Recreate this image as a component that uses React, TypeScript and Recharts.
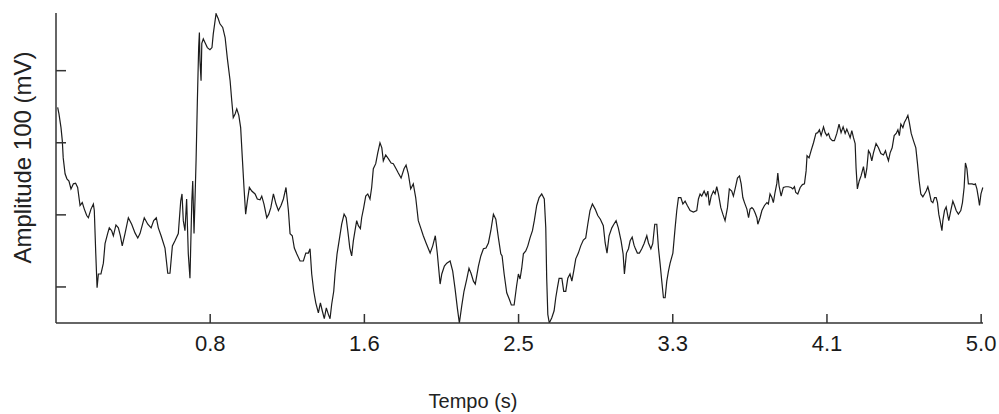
import { LineChart, Line, XAxis, YAxis } from "recharts";

// signal: time (s) and amplitude (tick units)
const time = [
  0.009, 0.016, 0.027, 0.034, 0.039, 0.049, 0.059, 0.070, 0.081, 0.094,
  0.106, 0.117, 0.130, 0.142, 0.153, 0.166, 0.175, 0.189, 0.202, 0.207,
  0.215, 0.222, 0.229, 0.243, 0.256, 0.265, 0.279, 0.288, 0.301, 0.310,
  0.324, 0.337, 0.348, 0.358, 0.373, 0.391, 0.409, 0.427, 0.442, 0.454,
  0.477, 0.496, 0.514, 0.528, 0.542, 0.553, 0.568, 0.589, 0.604, 0.616,
  0.629, 0.643, 0.661, 0.674, 0.681, 0.688, 0.697, 0.706, 0.715, 0.724,
  0.734, 0.739, 0.746, 0.751, 0.757, 0.764, 0.771, 0.775, 0.778, 0.784,
  0.788, 0.796, 0.807, 0.818, 0.832, 0.843, 0.850, 0.865, 0.877, 0.886,
  0.901, 0.914, 0.926, 0.941, 0.950, 0.958, 0.968, 0.977, 0.988, 0.998,
  1.007, 1.016, 1.025, 1.034, 1.045, 1.058, 1.076, 1.088, 1.103, 1.112,
  1.124, 1.139, 1.150, 1.161, 1.175, 1.189, 1.202, 1.216, 1.229, 1.243,
  1.256, 1.265, 1.277, 1.288, 1.301, 1.319, 1.337, 1.350, 1.364, 1.373,
  1.382, 1.393, 1.404, 1.418, 1.429, 1.439, 1.450, 1.461, 1.472, 1.481,
  1.490, 1.501, 1.508, 1.519, 1.530, 1.544, 1.557, 1.568, 1.577, 1.588,
  1.598, 1.607, 1.616, 1.625, 1.634, 1.645, 1.652, 1.663, 1.674, 1.685,
  1.697, 1.706, 1.715, 1.728, 1.739, 1.751, 1.761, 1.769, 1.782, 1.796,
  1.811, 1.823, 1.838, 1.850, 1.865, 1.881, 1.892, 1.904, 1.917, 1.931,
  1.944, 1.958, 1.971, 1.985, 2.000, 2.022, 2.036, 2.050, 2.061, 2.076,
  2.085, 2.099, 2.112, 2.130, 2.144, 2.157, 2.169, 2.180, 2.193, 2.205,
  2.220, 2.232, 2.243, 2.256, 2.266, 2.283, 2.296, 2.310, 2.324, 2.337,
  2.350, 2.364, 2.377, 2.391, 2.404, 2.411, 2.422, 2.436, 2.450, 2.461,
  2.476, 2.489, 2.499, 2.508, 2.517, 2.526, 2.539, 2.550, 2.562, 2.575,
  2.585, 2.598, 2.611, 2.625, 2.639, 2.647, 2.652, 2.658, 2.666, 2.679,
  2.692, 2.701, 2.710, 2.719, 2.734, 2.744, 2.755, 2.766, 2.778, 2.788,
  2.798, 2.809, 2.823, 2.836, 2.850, 2.863, 2.874, 2.886, 2.899, 2.914,
  2.928, 2.942, 2.958, 2.968, 2.978, 2.989, 3.004, 3.015, 3.027, 3.039,
  3.054, 3.065, 3.072, 3.083, 3.094, 3.103, 3.114, 3.124, 3.130, 3.142,
  3.153, 3.166, 3.178, 3.193, 3.202, 3.215, 3.225, 3.236, 3.247, 3.256,
  3.265, 3.274, 3.283, 3.292, 3.301, 3.310, 3.319, 3.334, 3.346, 3.355,
  3.364, 3.377, 3.388, 3.400, 3.412, 3.427, 3.445, 3.463, 3.472, 3.481,
  3.490, 3.503, 3.514, 3.523, 3.531, 3.541, 3.553, 3.562, 3.571, 3.580,
  3.593, 3.604, 3.616, 3.629, 3.639, 3.652, 3.661, 3.672, 3.683, 3.694,
  3.703, 3.712, 3.721, 3.734, 3.743, 3.751, 3.761, 3.769, 3.778, 3.788,
  3.793, 3.805, 3.815, 3.829, 3.842, 3.850, 3.859, 3.869, 3.877, 3.886,
  3.896, 3.901, 3.908, 3.919, 3.931, 3.944, 3.958, 3.973, 3.982, 3.991,
  3.998, 4.009, 4.022, 4.034, 4.045, 4.054, 4.059, 4.070, 4.081, 4.094,
  4.107, 4.117, 4.126, 4.135, 4.148, 4.157, 4.166, 4.175, 4.184, 4.196,
  4.207, 4.220, 4.232, 4.243, 4.254, 4.265, 4.274, 4.283, 4.292, 4.301,
  4.310, 4.319, 4.324, 4.331, 4.341, 4.351, 4.364, 4.373, 4.382, 4.391,
  4.400, 4.409, 4.418, 4.432, 4.445, 4.458, 4.472, 4.483, 4.490, 4.499,
  4.508, 4.519, 4.530, 4.541, 4.550, 4.558, 4.566, 4.577, 4.585, 4.595,
  4.604, 4.612, 4.622, 4.634, 4.647, 4.656, 4.665, 4.674, 4.685, 4.694,
  4.703, 4.712, 4.720, 4.730, 4.739, 4.748, 4.757, 4.764, 4.771, 4.778,
  4.788, 4.793, 4.802, 4.811, 4.818, 4.825, 4.836, 4.847, 4.856, 4.865,
  4.877, 4.890, 4.899, 4.908, 4.915, 4.923, 4.931, 4.941, 4.951, 4.962,
  4.969, 4.977, 4.985, 4.991, 4.999, 5.009,
];

const amplitude = [
  1.49, 1.40, 1.21, 1.03, 0.79, 0.57, 0.50, 0.47, 0.36, 0.43,
  0.44, 0.38, 0.13, 0.17, 0.08, -0.01, -0.04, 0.08, 0.15, 0.06,
  -0.54, -1.01, -0.82, -0.82, -0.67, -0.40, -0.26, -0.18, -0.22, -0.29,
  -0.14, -0.18, -0.29, -0.43, -0.26, -0.04, -0.13, -0.25, -0.32, -0.26,
  -0.04, -0.13, -0.18, -0.08, -0.04, -0.18, -0.29, -0.46, -0.81, -0.81,
  -0.43, -0.36, -0.26, 0.19, 0.29, -0.08, -0.22, 0.22, -0.54, -0.88,
  0.19, 0.47, -0.26, 0.19, 0.75, 1.58, 2.32, 2.53, 2.14, 1.86,
  2.38, 2.44, 2.38, 2.32, 2.29, 2.32, 2.51, 2.79, 2.72, 2.65,
  2.60, 2.46, 2.17, 1.86, 1.58, 1.35, 1.40, 1.47, 1.38, 1.21,
  0.79, 0.38, 0.01, 0.19, 0.38, 0.33, 0.29, 0.22, 0.21, 0.26,
  0.15, -0.04, 0.01, 0.10, 0.29, 0.15, 0.06, 0.13, 0.22, 0.38,
  0.06, -0.26, -0.29, -0.46, -0.54, -0.64, -0.64, -0.53, -0.53, -0.47,
  -0.82, -1.06, -1.22, -1.36, -1.22, -1.33, -1.44, -1.29, -1.38, -1.44,
  -1.24, -1.06, -0.82, -0.54, -0.36, -0.13, 0.01, -0.04, -0.22, -0.46,
  -0.57, -0.36, -0.22, -0.08, -0.15, -0.19, -0.04, 0.10, 0.26, 0.29,
  0.22, 0.38, 0.64, 0.71, 0.86, 1.00, 0.93, 0.75, 0.83, 0.78,
  0.72, 0.71, 0.64, 0.58, 0.51, 0.64, 0.69, 0.57, 0.36, 0.43,
  0.24, -0.08, -0.18, -0.29, -0.39, -0.53, -0.43, -0.29, -0.54, -0.96,
  -0.82, -0.71, -0.67, -0.64, -0.78, -1.03, -1.29, -1.50, -1.26, -1.06,
  -0.89, -0.74, -0.81, -0.92, -0.96, -0.71, -0.57, -0.47, -0.46, -0.39,
  -0.22, 0.01, -0.06, -0.32, -0.54, -0.57, -0.82, -1.08, -1.17, -1.25,
  -1.25, -0.99, -0.82, -0.89, -0.74, -0.54, -0.50, -0.43, -0.32, -0.22,
  -0.08, 0.13, 0.24, 0.29, 0.22, -0.18, -0.88, -1.38, -1.50, -1.43,
  -1.33, -1.15, -1.01, -0.88, -0.88, -1.06, -1.06, -0.88, -0.82, -0.92,
  -0.78, -0.61, -0.53, -0.43, -0.35, -0.32, -0.13, 0.06, 0.15, 0.08,
  -0.01, -0.06, -0.15, -0.39, -0.53, -0.29, -0.18, -0.13, -0.08, -0.18,
  -0.36, -0.54, -0.82, -0.53, -0.47, -0.36, -0.31, -0.42, -0.46, -0.53,
  -0.53, -0.47, -0.40, -0.29, -0.39, -0.47, -0.40, -0.13, -0.13, -0.46,
  -0.68, -0.92, -1.15, -1.15, -0.92, -0.78, -0.67, -0.53, -0.18, 0.06,
  0.24, 0.24, 0.15, 0.19, 0.13, 0.06, 0.04, 0.06, 0.22, 0.29,
  0.26, 0.33, 0.26, 0.33, 0.13, 0.26, 0.33, 0.29, 0.39, 0.29,
  0.10, 0.01, -0.08, 0.10, 0.36, 0.33, 0.26, 0.38, 0.51, 0.54,
  0.43, 0.24, 0.17, 0.08, -0.04, 0.08, 0.10, 0.08, 0.03, -0.04,
  -0.13, -0.04, 0.06, 0.13, 0.17, 0.15, 0.29, 0.24, 0.17, 0.31,
  0.44, 0.58, 0.40, 0.26, 0.38, 0.39, 0.39, 0.38, 0.36, 0.39,
  0.31, 0.29, 0.38, 0.42, 0.43, 0.61, 0.82, 0.79, 0.89, 1.00,
  1.13, 1.14, 1.18, 1.10, 1.22, 1.14, 1.10, 1.13, 1.06, 1.03,
  1.03, 1.13, 1.26, 1.14, 1.22, 1.13, 1.19, 1.13, 1.07, 1.17,
  1.07, 0.99, 0.65, 0.36, 0.47, 0.54, 0.67, 0.51, 0.64, 0.89,
  0.85, 0.75, 0.86, 0.99, 0.93, 0.85, 0.83, 0.89, 0.82, 0.75,
  0.86, 0.93, 1.10, 1.13, 1.18, 1.10, 1.26, 1.21, 1.28, 1.33,
  1.38, 1.28, 1.13, 1.03, 0.93, 0.71, 0.47, 0.29, 0.25, 0.29,
  0.33, 0.39, 0.31, 0.19, 0.17, 0.24, 0.24, 0.17, 0.01, -0.08,
  -0.22, -0.08, 0.06, 0.11, 0.01, -0.08, 0.06, 0.19, 0.13, 0.06,
  0.01, 0.06, 0.17, 0.38, 0.72, 0.64, 0.43, 0.43, 0.43, 0.42,
  0.43, 0.36, 0.24, 0.13, 0.29, 0.38,
];

// six evenly spaced ticks, labels truncated like the original
const xTicks = [5 / 6, 10 / 6, 15 / 6, 20 / 6, 25 / 6, 30 / 6];
const xTickLabels = ["0.8", "1.6", "2.5", "3.3", "4.1", "5.0"];
const yTicks = [-1, 0, 1, 2];

const FONT = "'Liberation Sans', Arial, sans-serif";
const AXIS = "#333";

const data = time.map((t, i) => ({ t, v: amplitude[i] }));

const YTitle = ({ viewBox }: any) => {
  const cx = viewBox.x + 22.5;
  const cy = viewBox.y + viewBox.height / 2 - 10.5;
  return (
    <text
      x={cx}
      y={cy}
      transform={`rotate(-90 ${cx} ${cy})`}
      textAnchor="middle"
      dominantBaseline="central"
      fontFamily={FONT}
      fontSize={24}
      fill="#222"
    >
      Amplitude 100 (mV)
    </text>
  );
};

const XTitle = ({ viewBox }: any) => (
  <text
    x={viewBox.x + 417}
    y={viewBox.y + 78}
    textAnchor="middle"
    dominantBaseline="central"
    fontFamily={FONT}
    fontSize={20}
    fill="#222"
  >
    Tempo (s)
  </text>
);

export default function App() {
  return (
    <div style={{ position: "absolute", left: 0, top: 0, width: 999, height: 414, background: "#fff" }}>
      <LineChart width={999} height={414} data={data} margin={{ top: 13, right: 16, left: 0, bottom: 0 }}>
        <XAxis
          type="number"
          dataKey="t"
          domain={[0, 5.01]}
          ticks={xTicks}
          interval={0}
          tickFormatter={(_v: number, i: number) => xTickLabels[i]}
          height={91}
          tickSize={-9}
          tickMargin={21}
          axisLine={{ stroke: AXIS, strokeWidth: 1.5 }}
          tickLine={{ stroke: AXIS, strokeWidth: 1.5 }}
          tick={{ fill: "#1a1a1a", fontSize: 22, fontFamily: FONT }}
          label={<XTitle />}
        />
        <YAxis
          type="number"
          domain={[-1.5, 2.8]}
          ticks={yTicks}
          allowDataOverflow
          width={56}
          tickSize={-10}
          tickFormatter={() => ""}
          axisLine={{ stroke: AXIS, strokeWidth: 1.5 }}
          tickLine={{ stroke: AXIS, strokeWidth: 1.5 }}
          label={<YTitle />}
        />
        <Line
          type="linear"
          dataKey="v"
          stroke="#1c1c1c"
          strokeWidth={1.2}
          dot={false}
          activeDot={false}
          isAnimationActive={false}
        />
      </LineChart>
    </div>
  );
}
